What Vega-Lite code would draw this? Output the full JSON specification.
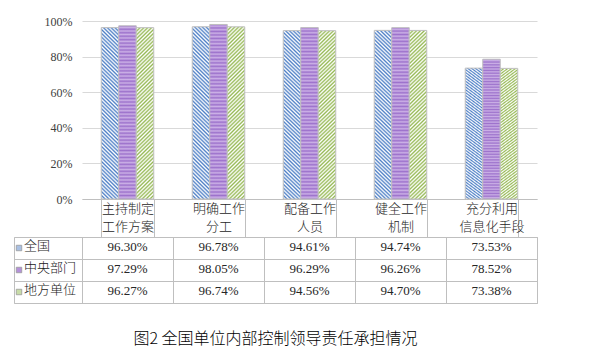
{
  "$schema": "https://vega.github.io/schema/vega-lite/v6.json",
  "background": "white",
  "padding": {"left": 13, "top": 15, "right": 57, "bottom": 10},
  "config": {"view": {"stroke": null}, "font": "Noto Sans CJK SC"},
  "datasets": {
    "d": [
      {"cat": "主持制定 工作方案", "series": "全国", "value": 0.963},
      {"cat": "主持制定 工作方案", "series": "中央部门", "value": 0.9729},
      {"cat": "主持制定 工作方案", "series": "地方单位", "value": 0.9627},
      {"cat": "明确工作 分工", "series": "全国", "value": 0.9678},
      {"cat": "明确工作 分工", "series": "中央部门", "value": 0.9805},
      {"cat": "明确工作 分工", "series": "地方单位", "value": 0.9674},
      {"cat": "配备工作 人员", "series": "全国", "value": 0.9461},
      {"cat": "配备工作 人员", "series": "中央部门", "value": 0.9629},
      {"cat": "配备工作 人员", "series": "地方单位", "value": 0.9456},
      {"cat": "健全工作 机制", "series": "全国", "value": 0.9474},
      {"cat": "健全工作 机制", "series": "中央部门", "value": 0.9626},
      {"cat": "健全工作 机制", "series": "地方单位", "value": 0.947},
      {"cat": "充分利用 信息化手段", "series": "全国", "value": 0.7353},
      {"cat": "充分利用 信息化手段", "series": "中央部门", "value": 0.7852},
      {"cat": "充分利用 信息化手段", "series": "地方单位", "value": 0.7338}
    ]
  },
  "title": {"text": "图2 全国单位内部控制领导责任承担情况", "orient": "bottom", "anchor": "middle", "fontSize": 16, "fontWeight": 300, "font": "Noto Sans CJK SC", "color": "#000000", "offset": 27},
  "columns": 2,
  "bounds": "flush",
  "align": "each",
  "spacing": {"row": 38, "column": 0},
  "concat": [
    {
      "width": 68, "height": 178,
      "data": {"values": []},
      "mark": {"type": "point", "opacity": 0}
    },
    {
      "width": 455, "height": 178,
      "data": {"name": "d"},
      "encoding": {
        "x": {"field": "cat", "type": "nominal",
          "sort": ["主持制定 工作方案", "明确工作 分工", "配备工作 人员", "健全工作 机制", "充分利用 信息化手段"],
          "scale": {"paddingInner": 0.423, "paddingOuter": 0.2115},
          "axis": {"title": null, "labelAngle": 0, "labelExpr": "split(datum.label, ' ')", "labelFont": "Noto Sans CJK SC", "labelFontSize": 13, "labelFontWeight": 300, "labelColor": "#262626", "labelLineHeight": 18, "labelPadding": -35, "domainColor": "#bfbfbf", "tickColor": "#bfbfbf", "tickBand": "extent", "tickSize": 38, "labelBaseline": "top"}},
        "xOffset": {"field": "series", "type": "nominal", "sort": ["全国", "中央部门", "地方单位"]},
        "y": {"field": "value", "type": "quantitative", "scale": {"domain": [0, 1]},
          "axis": {"title": null, "format": ".0%", "values": [0, 0.2, 0.4, 0.6, 0.8, 1], "domain": false, "ticks": false, "gridColor": "#d9d9d9", "labelPadding": 10, "labelFont": "Liberation Serif", "labelFontSize": 12, "labelColor": "#404040"}}
      },
      "layer": [
        {
          "transform": [{"filter": {"field": "series", "equal": "全国"}}],
          "mark": {"type": "bar", "stroke": "#bfbfbf", "strokeWidth": 1,
            "fill": {"gradient": "linear", "x1": 1, "y1": 0, "x2": 0.891, "y2": 1.089, "stops": [{"offset":0,"color":"#4f80c6"},{"offset":0.01,"color":"#ffffff"},{"offset":0.02,"color":"#4f80c6"},{"offset":0.03,"color":"#ffffff"},{"offset":0.04,"color":"#4f80c6"},{"offset":0.05,"color":"#ffffff"},{"offset":0.06,"color":"#4f80c6"},{"offset":0.07,"color":"#ffffff"},{"offset":0.08,"color":"#4f80c6"},{"offset":0.09,"color":"#ffffff"},{"offset":0.1,"color":"#4f80c6"},{"offset":0.11,"color":"#ffffff"},{"offset":0.12,"color":"#4f80c6"},{"offset":0.13,"color":"#ffffff"},{"offset":0.14,"color":"#4f80c6"},{"offset":0.15,"color":"#ffffff"},{"offset":0.16,"color":"#4f80c6"},{"offset":0.17,"color":"#ffffff"},{"offset":0.18,"color":"#4f80c6"},{"offset":0.19,"color":"#ffffff"},{"offset":0.2,"color":"#4f80c6"},{"offset":0.21,"color":"#ffffff"},{"offset":0.22,"color":"#4f80c6"},{"offset":0.23,"color":"#ffffff"},{"offset":0.24,"color":"#4f80c6"},{"offset":0.25,"color":"#ffffff"},{"offset":0.26,"color":"#4f80c6"},{"offset":0.27,"color":"#ffffff"},{"offset":0.28,"color":"#4f80c6"},{"offset":0.29,"color":"#ffffff"},{"offset":0.3,"color":"#4f80c6"},{"offset":0.31,"color":"#ffffff"},{"offset":0.32,"color":"#4f80c6"},{"offset":0.33,"color":"#ffffff"},{"offset":0.34,"color":"#4f80c6"},{"offset":0.35,"color":"#ffffff"},{"offset":0.36,"color":"#4f80c6"},{"offset":0.37,"color":"#ffffff"},{"offset":0.38,"color":"#4f80c6"},{"offset":0.39,"color":"#ffffff"},{"offset":0.4,"color":"#4f80c6"},{"offset":0.41,"color":"#ffffff"},{"offset":0.42,"color":"#4f80c6"},{"offset":0.43,"color":"#ffffff"},{"offset":0.44,"color":"#4f80c6"},{"offset":0.45,"color":"#ffffff"},{"offset":0.46,"color":"#4f80c6"},{"offset":0.47,"color":"#ffffff"},{"offset":0.48,"color":"#4f80c6"},{"offset":0.49,"color":"#ffffff"},{"offset":0.5,"color":"#4f80c6"},{"offset":0.51,"color":"#ffffff"},{"offset":0.52,"color":"#4f80c6"},{"offset":0.53,"color":"#ffffff"},{"offset":0.54,"color":"#4f80c6"},{"offset":0.55,"color":"#ffffff"},{"offset":0.56,"color":"#4f80c6"},{"offset":0.57,"color":"#ffffff"},{"offset":0.58,"color":"#4f80c6"},{"offset":0.59,"color":"#ffffff"},{"offset":0.6,"color":"#4f80c6"},{"offset":0.61,"color":"#ffffff"},{"offset":0.62,"color":"#4f80c6"},{"offset":0.63,"color":"#ffffff"},{"offset":0.64,"color":"#4f80c6"},{"offset":0.65,"color":"#ffffff"},{"offset":0.66,"color":"#4f80c6"},{"offset":0.67,"color":"#ffffff"},{"offset":0.68,"color":"#4f80c6"},{"offset":0.69,"color":"#ffffff"},{"offset":0.7,"color":"#4f80c6"},{"offset":0.71,"color":"#ffffff"},{"offset":0.72,"color":"#4f80c6"},{"offset":0.73,"color":"#ffffff"},{"offset":0.74,"color":"#4f80c6"},{"offset":0.75,"color":"#ffffff"},{"offset":0.76,"color":"#4f80c6"},{"offset":0.77,"color":"#ffffff"},{"offset":0.78,"color":"#4f80c6"},{"offset":0.79,"color":"#ffffff"},{"offset":0.8,"color":"#4f80c6"},{"offset":0.81,"color":"#ffffff"},{"offset":0.82,"color":"#4f80c6"},{"offset":0.83,"color":"#ffffff"},{"offset":0.84,"color":"#4f80c6"},{"offset":0.85,"color":"#ffffff"},{"offset":0.86,"color":"#4f80c6"},{"offset":0.87,"color":"#ffffff"},{"offset":0.88,"color":"#4f80c6"},{"offset":0.89,"color":"#ffffff"},{"offset":0.9,"color":"#4f80c6"},{"offset":0.91,"color":"#ffffff"},{"offset":0.92,"color":"#4f80c6"},{"offset":0.93,"color":"#ffffff"},{"offset":0.94,"color":"#4f80c6"},{"offset":0.95,"color":"#ffffff"},{"offset":0.96,"color":"#4f80c6"},{"offset":0.97,"color":"#ffffff"},{"offset":0.98,"color":"#4f80c6"},{"offset":0.99,"color":"#ffffff"},{"offset":1,"color":"#4f80c6"}]}}
        },
        {
          "transform": [{"filter": {"field": "series", "equal": "中央部门"}}],
          "mark": {"type": "bar", "stroke": "#bfbfbf", "strokeWidth": 1,
            "fill": {"gradient": "linear", "x1": 0, "y1": 0, "x2": 0, "y2": 1, "stops": [{"offset":0,"color":"#9d72cc"},{"offset":0.01,"color":"#cbb0e6"},{"offset":0.02,"color":"#9d72cc"},{"offset":0.03,"color":"#cbb0e6"},{"offset":0.04,"color":"#9d72cc"},{"offset":0.05,"color":"#cbb0e6"},{"offset":0.06,"color":"#9d72cc"},{"offset":0.07,"color":"#cbb0e6"},{"offset":0.08,"color":"#9d72cc"},{"offset":0.09,"color":"#cbb0e6"},{"offset":0.1,"color":"#9d72cc"},{"offset":0.11,"color":"#cbb0e6"},{"offset":0.12,"color":"#9d72cc"},{"offset":0.13,"color":"#cbb0e6"},{"offset":0.14,"color":"#9d72cc"},{"offset":0.15,"color":"#cbb0e6"},{"offset":0.16,"color":"#9d72cc"},{"offset":0.17,"color":"#cbb0e6"},{"offset":0.18,"color":"#9d72cc"},{"offset":0.19,"color":"#cbb0e6"},{"offset":0.2,"color":"#9d72cc"},{"offset":0.21,"color":"#cbb0e6"},{"offset":0.22,"color":"#9d72cc"},{"offset":0.23,"color":"#cbb0e6"},{"offset":0.24,"color":"#9d72cc"},{"offset":0.25,"color":"#cbb0e6"},{"offset":0.26,"color":"#9d72cc"},{"offset":0.27,"color":"#cbb0e6"},{"offset":0.28,"color":"#9d72cc"},{"offset":0.29,"color":"#cbb0e6"},{"offset":0.3,"color":"#9d72cc"},{"offset":0.31,"color":"#cbb0e6"},{"offset":0.32,"color":"#9d72cc"},{"offset":0.33,"color":"#cbb0e6"},{"offset":0.34,"color":"#9d72cc"},{"offset":0.35,"color":"#cbb0e6"},{"offset":0.36,"color":"#9d72cc"},{"offset":0.37,"color":"#cbb0e6"},{"offset":0.38,"color":"#9d72cc"},{"offset":0.39,"color":"#cbb0e6"},{"offset":0.4,"color":"#9d72cc"},{"offset":0.41,"color":"#cbb0e6"},{"offset":0.42,"color":"#9d72cc"},{"offset":0.43,"color":"#cbb0e6"},{"offset":0.44,"color":"#9d72cc"},{"offset":0.45,"color":"#cbb0e6"},{"offset":0.46,"color":"#9d72cc"},{"offset":0.47,"color":"#cbb0e6"},{"offset":0.48,"color":"#9d72cc"},{"offset":0.49,"color":"#cbb0e6"},{"offset":0.5,"color":"#9d72cc"},{"offset":0.51,"color":"#cbb0e6"},{"offset":0.52,"color":"#9d72cc"},{"offset":0.53,"color":"#cbb0e6"},{"offset":0.54,"color":"#9d72cc"},{"offset":0.55,"color":"#cbb0e6"},{"offset":0.56,"color":"#9d72cc"},{"offset":0.57,"color":"#cbb0e6"},{"offset":0.58,"color":"#9d72cc"},{"offset":0.59,"color":"#cbb0e6"},{"offset":0.6,"color":"#9d72cc"},{"offset":0.61,"color":"#cbb0e6"},{"offset":0.62,"color":"#9d72cc"},{"offset":0.63,"color":"#cbb0e6"},{"offset":0.64,"color":"#9d72cc"},{"offset":0.65,"color":"#cbb0e6"},{"offset":0.66,"color":"#9d72cc"},{"offset":0.67,"color":"#cbb0e6"},{"offset":0.68,"color":"#9d72cc"},{"offset":0.69,"color":"#cbb0e6"},{"offset":0.7,"color":"#9d72cc"},{"offset":0.71,"color":"#cbb0e6"},{"offset":0.72,"color":"#9d72cc"},{"offset":0.73,"color":"#cbb0e6"},{"offset":0.74,"color":"#9d72cc"},{"offset":0.75,"color":"#cbb0e6"},{"offset":0.76,"color":"#9d72cc"},{"offset":0.77,"color":"#cbb0e6"},{"offset":0.78,"color":"#9d72cc"},{"offset":0.79,"color":"#cbb0e6"},{"offset":0.8,"color":"#9d72cc"},{"offset":0.81,"color":"#cbb0e6"},{"offset":0.82,"color":"#9d72cc"},{"offset":0.83,"color":"#cbb0e6"},{"offset":0.84,"color":"#9d72cc"},{"offset":0.85,"color":"#cbb0e6"},{"offset":0.86,"color":"#9d72cc"},{"offset":0.87,"color":"#cbb0e6"},{"offset":0.88,"color":"#9d72cc"},{"offset":0.89,"color":"#cbb0e6"},{"offset":0.9,"color":"#9d72cc"},{"offset":0.91,"color":"#cbb0e6"},{"offset":0.92,"color":"#9d72cc"},{"offset":0.93,"color":"#cbb0e6"},{"offset":0.94,"color":"#9d72cc"},{"offset":0.95,"color":"#cbb0e6"},{"offset":0.96,"color":"#9d72cc"},{"offset":0.97,"color":"#cbb0e6"},{"offset":0.98,"color":"#9d72cc"},{"offset":0.99,"color":"#cbb0e6"},{"offset":1,"color":"#9d72cc"}]}}
        },
        {
          "transform": [{"filter": {"field": "series", "equal": "地方单位"}}],
          "mark": {"type": "bar", "stroke": "#bfbfbf", "strokeWidth": 1,
            "fill": {"gradient": "linear", "x1": 0, "y1": 0, "x2": 0.109, "y2": 1.089, "stops": [{"offset":0,"color":"#96b955"},{"offset":0.01,"color":"#ffffff"},{"offset":0.02,"color":"#96b955"},{"offset":0.03,"color":"#ffffff"},{"offset":0.04,"color":"#96b955"},{"offset":0.05,"color":"#ffffff"},{"offset":0.06,"color":"#96b955"},{"offset":0.07,"color":"#ffffff"},{"offset":0.08,"color":"#96b955"},{"offset":0.09,"color":"#ffffff"},{"offset":0.1,"color":"#96b955"},{"offset":0.11,"color":"#ffffff"},{"offset":0.12,"color":"#96b955"},{"offset":0.13,"color":"#ffffff"},{"offset":0.14,"color":"#96b955"},{"offset":0.15,"color":"#ffffff"},{"offset":0.16,"color":"#96b955"},{"offset":0.17,"color":"#ffffff"},{"offset":0.18,"color":"#96b955"},{"offset":0.19,"color":"#ffffff"},{"offset":0.2,"color":"#96b955"},{"offset":0.21,"color":"#ffffff"},{"offset":0.22,"color":"#96b955"},{"offset":0.23,"color":"#ffffff"},{"offset":0.24,"color":"#96b955"},{"offset":0.25,"color":"#ffffff"},{"offset":0.26,"color":"#96b955"},{"offset":0.27,"color":"#ffffff"},{"offset":0.28,"color":"#96b955"},{"offset":0.29,"color":"#ffffff"},{"offset":0.3,"color":"#96b955"},{"offset":0.31,"color":"#ffffff"},{"offset":0.32,"color":"#96b955"},{"offset":0.33,"color":"#ffffff"},{"offset":0.34,"color":"#96b955"},{"offset":0.35,"color":"#ffffff"},{"offset":0.36,"color":"#96b955"},{"offset":0.37,"color":"#ffffff"},{"offset":0.38,"color":"#96b955"},{"offset":0.39,"color":"#ffffff"},{"offset":0.4,"color":"#96b955"},{"offset":0.41,"color":"#ffffff"},{"offset":0.42,"color":"#96b955"},{"offset":0.43,"color":"#ffffff"},{"offset":0.44,"color":"#96b955"},{"offset":0.45,"color":"#ffffff"},{"offset":0.46,"color":"#96b955"},{"offset":0.47,"color":"#ffffff"},{"offset":0.48,"color":"#96b955"},{"offset":0.49,"color":"#ffffff"},{"offset":0.5,"color":"#96b955"},{"offset":0.51,"color":"#ffffff"},{"offset":0.52,"color":"#96b955"},{"offset":0.53,"color":"#ffffff"},{"offset":0.54,"color":"#96b955"},{"offset":0.55,"color":"#ffffff"},{"offset":0.56,"color":"#96b955"},{"offset":0.57,"color":"#ffffff"},{"offset":0.58,"color":"#96b955"},{"offset":0.59,"color":"#ffffff"},{"offset":0.6,"color":"#96b955"},{"offset":0.61,"color":"#ffffff"},{"offset":0.62,"color":"#96b955"},{"offset":0.63,"color":"#ffffff"},{"offset":0.64,"color":"#96b955"},{"offset":0.65,"color":"#ffffff"},{"offset":0.66,"color":"#96b955"},{"offset":0.67,"color":"#ffffff"},{"offset":0.68,"color":"#96b955"},{"offset":0.69,"color":"#ffffff"},{"offset":0.7,"color":"#96b955"},{"offset":0.71,"color":"#ffffff"},{"offset":0.72,"color":"#96b955"},{"offset":0.73,"color":"#ffffff"},{"offset":0.74,"color":"#96b955"},{"offset":0.75,"color":"#ffffff"},{"offset":0.76,"color":"#96b955"},{"offset":0.77,"color":"#ffffff"},{"offset":0.78,"color":"#96b955"},{"offset":0.79,"color":"#ffffff"},{"offset":0.8,"color":"#96b955"},{"offset":0.81,"color":"#ffffff"},{"offset":0.82,"color":"#96b955"},{"offset":0.83,"color":"#ffffff"},{"offset":0.84,"color":"#96b955"},{"offset":0.85,"color":"#ffffff"},{"offset":0.86,"color":"#96b955"},{"offset":0.87,"color":"#ffffff"},{"offset":0.88,"color":"#96b955"},{"offset":0.89,"color":"#ffffff"},{"offset":0.9,"color":"#96b955"},{"offset":0.91,"color":"#ffffff"},{"offset":0.92,"color":"#96b955"},{"offset":0.93,"color":"#ffffff"},{"offset":0.94,"color":"#96b955"},{"offset":0.95,"color":"#ffffff"},{"offset":0.96,"color":"#96b955"},{"offset":0.97,"color":"#ffffff"},{"offset":0.98,"color":"#96b955"},{"offset":0.99,"color":"#ffffff"},{"offset":1,"color":"#96b955"}]}}
        }
      ]
    },
    {
      "width": 68, "height": 66,
      "view": {"stroke": "#bfbfbf"},
      "data": {"name": "d"},
      "transform": [{"filter": {"field": "cat", "equal": "主持制定 工作方案"}}],
      "encoding": {
        "y": {"field": "series", "type": "nominal", "sort": ["全国", "中央部门", "地方单位"],
          "scale": {"paddingInner": 0, "paddingOuter": 0},
          "axis": {"title": null, "labels": false, "ticks": false, "domain": false, "grid": true, "tickBand": "extent", "gridColor": "#bfbfbf"}}
      },
      "layer": [
        {
          "mark": {"type": "point", "shape": "square", "size": 30, "stroke": "#999999", "strokeWidth": 0.8, "opacity": 1, "filled": true},
          "encoding": {
            "x": {"value": 5},
            "fill": {"field": "series", "type": "nominal", "legend": null,
              "scale": {"domain": ["全国", "中央部门", "地方单位"], "range": ["#a9c0e3", "#b491d9", "#c8dca8"]}}
          }
        },
        {
          "mark": {"type": "text", "align": "left", "baseline": "middle", "dy": -2, "font": "Noto Sans CJK SC", "fontSize": 13, "fontWeight": 300, "color": "#1a1a1a"},
          "encoding": {
            "x": {"value": 10},
            "text": {"field": "series"}
          }
        }
      ]
    },
    {
      "width": 455, "height": 66,
      "view": {"stroke": "#bfbfbf"},
      "data": {"name": "d"},
      "mark": {"type": "text", "baseline": "middle", "dy": -1, "font": "Liberation Serif", "fontSize": 13, "color": "#262626"},
      "encoding": {
        "x": {"field": "cat", "type": "nominal",
          "sort": ["主持制定 工作方案", "明确工作 分工", "配备工作 人员", "健全工作 机制", "充分利用 信息化手段"],
          "scale": {"paddingInner": 0, "paddingOuter": 0},
          "axis": {"title": null, "labels": false, "ticks": false, "domain": false, "grid": true, "tickBand": "extent", "gridColor": "#bfbfbf"}},
        "y": {"field": "series", "type": "nominal", "sort": ["全国", "中央部门", "地方单位"],
          "scale": {"paddingInner": 0, "paddingOuter": 0},
          "axis": {"title": null, "labels": false, "ticks": false, "domain": false, "grid": true, "tickBand": "extent", "gridColor": "#bfbfbf"}},
        "text": {"field": "value", "type": "quantitative", "format": ".2%"}
      }
    }
  ]
}
